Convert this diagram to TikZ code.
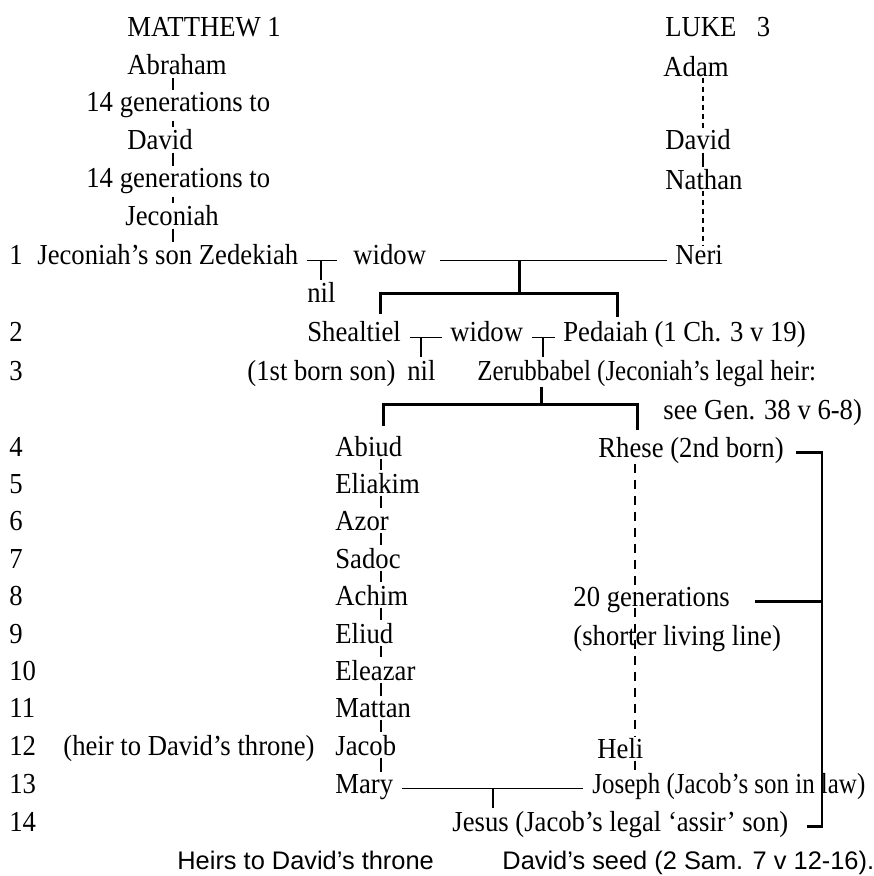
\documentclass[tikz,border=0pt]{standalone}
\usepackage{fontspec}
\setmainfont{Liberation Serif}[FakeStretch=0.92]
\newfontfamily\narrowserif{Liberation Serif}[FakeStretch=0.86]
\newfontfamily\capsans{Liberation Sans}
\usetikzlibrary{calc}

\begin{document}
\begin{tikzpicture}[x=0.5pt,y={(0pt,-0.5pt)},
  every node/.style={inner sep=0pt,anchor=base west,font=\fontsize{14.5}{17}\selectfont},
  narrow/.style={font=\narrowserif\fontsize{14.5}{17}\selectfont},
  caption/.style={font=\capsans\fontsize{12.7}{15}\selectfont},
  tick/.style={line width=1pt,shorten <=1pt,shorten >=1pt},
  dots/.style={line width=0.8pt,dash pattern=on 2.5pt off 2pt},
  longdash/.style={line width=0.8pt,dash pattern=on 4.5pt off 3.5pt},
  wed/.style={line width=0.7pt},
  brack/.style={line width=1.5pt},
  rbrack/.style={line width=1.2pt}]
\path[use as bounding box,fill=white] (0,0) rectangle (873,876);
% Matthew's line
\node (matt) at (127,37) {MATTHEW 1};
\node (abraham) at (127,75) {Abraham};
\node (gen1) at (86,112) {14 generations to};
\node (davidM) at (127,150) {David};
\node (gen2) at (86,188) {14 generations to};
\node (jeconiah) at (125,226) {Jeconiah};
\node (zedekiah) at (37,265) {Jeconiah’s son Zedekiah};
\node (widowA) at (353,265) {widow};
\node (nilA) at (307,303) {nil};
% Luke's line
\node (luke) at (665,37) {LUKE\hspace{0.7em}3};
\node (adam) at (663,77) {Adam};
\node (davidL) at (665,150) {David};
\node (nathan) at (665,190) {Nathan};
\node (neri) at (675,265) {Neri};
% rows 2 and 3
\node (shealtiel) at (307,342) {Shealtiel};
\node (widowB) at (450,342) {widow};
\node (pedaiah) at (563,342) {Pedaiah (1 Ch. 3 v 19)};
\node (firstborn) at (247,380) {(1st born son)};
\node (nilB) at (407,380) {nil};
\node[narrow] (zerub) at (477,380) {Zerubbabel (Jeconiah’s legal heir:};
\node (seegen) at (663,419) {see Gen. 38 v 6-8)};
% rows 4 to 14
\foreach \nm/\txt/\y in {abiud/Abiud/456, eliakim/Eliakim/493, azor/Azor/530,
    sadoc/Sadoc/568, achim/Achim/605, eliud/Eliud/643, eleazar/Eleazar/680,
    mattan/Mattan/717, jacob/Jacob/755, mary/Mary/793}
  \node (\nm) at (335,\y) {\txt};
\foreach \n/\y in {1/265, 2/342, 3/380, 4/456, 5/493, 6/530, 7/568, 8/605,
    9/643, 10/680, 11/717, 12/755, 13/793, 14/831}
  \node (r\n) at (9,\y) {\n};
\node (heir) at (63,755) {(heir to David’s throne)};
\node (rhese) at (598,457) {Rhese (2nd born)};
\node (gen20) at (573,606) {20 generations};
\node (shorter) at (573,645) {(shorter living line)};
\node (heli) at (597,758) {Heli};
\node[narrow] (joseph) at (592,793) {Joseph (Jacob’s son in law)};
\node (jesus) at (452,831) {Jesus (Jacob’s legal ‘assir’ son)};
\node[caption] (heirs) at (177,869) {Heirs to David’s throne};
\node[caption] (seed) at (502,869) {David’s seed (2 Sam. 7 v 12-16).};
% descent lines
\coordinate (ucol) at (173,0);
\coordinate (lcol) at (703,0);
\coordinate (mcol) at (381,0);
\coordinate (rcol) at (635,0);
\coordinate (rside) at (822,0);
\foreach \a/\b in {abraham/gen1, gen1/davidM, davidM/gen2, gen2/jeconiah, jeconiah/zedekiah}
  \draw[tick] (\a.south -| ucol) -- (\b.north -| ucol);
\draw[dots] (adam.south -| lcol) -- (davidL.north -| lcol);
\draw[tick] (davidL.south -| lcol) -- (nathan.north -| lcol);
\draw[dots] (nathan.south -| lcol) -- (neri.north -| lcol);
\foreach \a/\b in {abiud/eliakim, eliakim/azor, azor/sadoc, sadoc/achim, achim/eliud,
    eliud/eleazar, eleazar/mattan, mattan/jacob, jacob/mary}
  \draw[tick] (\a.south -| mcol) -- (\b.north -| mcol);
\draw[longdash] (rhese.south -| rcol) -- (heli.north -| rcol);
\draw[tick] (heli.south -| rcol) -- (joseph.north -| rcol);
% marriages
\draw[wed,shorten <=4pt,shorten >=8pt] (zedekiah.mid east) -- (widowA.mid west);
\draw[tick,shorten <=0pt] (nilA.north |- zedekiah.mid east) -- (nilA.north);
\draw[wed,shorten <=7pt,shorten >=4pt] (widowA.mid east) -- (neri.mid west);
\draw[wed,shorten <=4.5pt,shorten >=4pt] (shealtiel.mid east) -- (widowB.mid west);
\draw[tick,shorten <=0pt] (nilB.north |- shealtiel.mid east) -- (nilB.north);
\draw[wed,shorten <=4.5pt,shorten >=4pt] (widowB.mid east) -- (pedaiah.mid west);
\coordinate (tz) at ($(widowB.mid east)!0.5!(pedaiah.mid west)$);
\draw[tick,shorten <=0pt] (tz) -- (tz |- zerub.north);
\draw[wed,shorten <=4pt,shorten >=4.5pt] (mary.mid east) -- (joseph.mid west);
\coordinate (mj) at ($(mary.mid east)!0.5!(joseph.mid west)$);
\draw[tick,shorten <=0pt] (mj) -- (mj |- jesus.north);
% brackets
\coordinate (split1) at (519,294);
\coordinate (legS) at (380,314);
\coordinate (legP) at (617,317);
\draw[brack] (split1 |- neri.mid west) -- (split1);
\draw[brack] (legS) |- (split1) -| (legP);
\coordinate (split2) at (541,404);
\coordinate (legA) at (383,426);
\coordinate (legR) at (637,430);
\draw[brack] (split2 |- zerub.south) -- (split2);
\draw[brack] (legA) |- (split2) -| (legR);
\draw[rbrack] ([xshift=6pt]rhese.mid east) -- (rhese.mid east -| rside)
  -- (jesus.mid east -| rside) -- ([xshift=9pt]jesus.mid east);
\draw[rbrack] ([xshift=12.5pt]gen20.mid east) -- (gen20.mid east -| rside);
\end{tikzpicture}
\end{document}
